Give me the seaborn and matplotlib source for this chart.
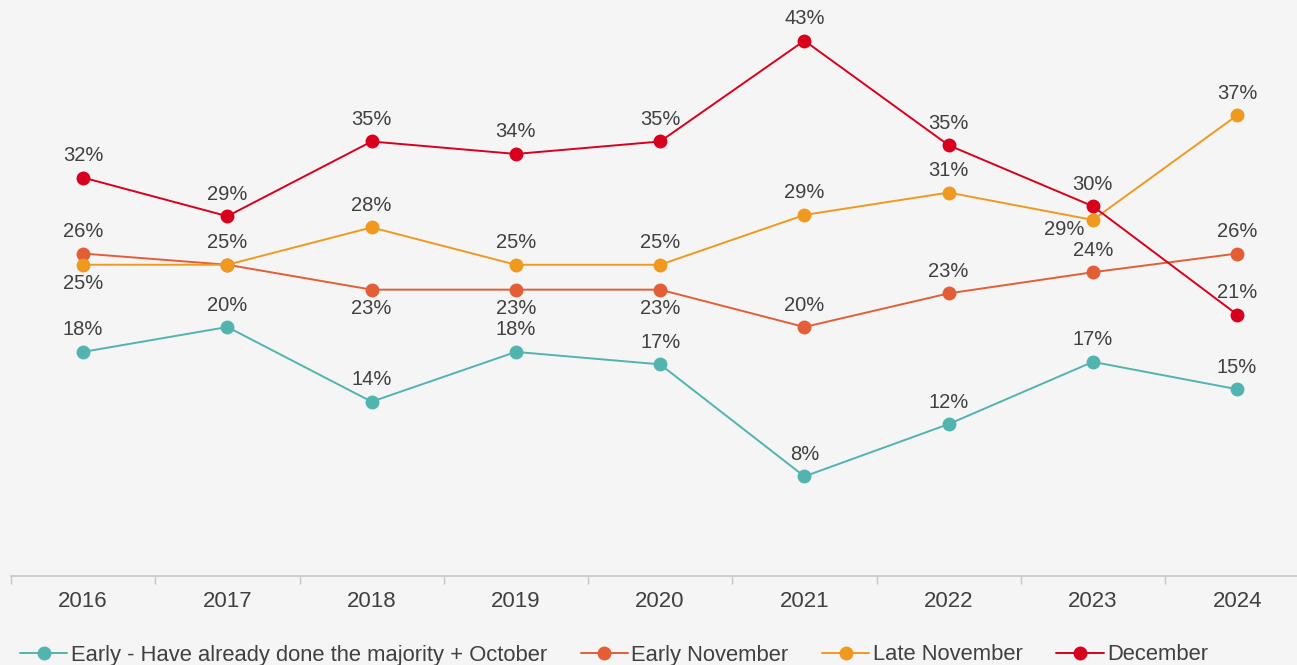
import matplotlib
matplotlib.use("Agg")
import matplotlib.pyplot as plt
from matplotlib.lines import Line2D
import seaborn as sns
import pandas as pd
import numpy as np

years = ["2016", "2017", "2018", "2019", "2020", "2021", "2022", "2023", "2024"]
series_names = ["Early - Have already done the majority + October",
                "Early November", "Late November", "December"]
early = [18, 20, 14, 18, 17, 8, 12.2, 17.2, 15]
early_nov = [25.9, 25, 23, 23, 23, 20, 22.7, 24.4, 25.9]
late_nov = [25, 25, 28, 25, 25, 29, 30.8, 28.6, 37]
december = [32, 28.9, 34.9, 33.9, 34.9, 43, 34.6, 29.7, 21]
colors = ["#52b4ae", "#e35e37", "#f0991f", "#d8001c"]

# label placement: +1 above, -1 below, "bl" below-left, None = hidden
label_pos = {
    0: [1, 1, 1, 1, 1, 1, 1, 1, 1],
    1: [1, None, -1, -1, -1, 1, 1, 1, 1],
    2: [-1, 1, 1, 1, 1, 1, 1, "bl", 1],
    3: [1, 1, 1, 1, 1, 1, 1, 1, 1],
}

all_vals = [early, early_nov, late_nov, december]
rows = []
for s, vals in zip(series_names, all_vals):
    for i, (y, v) in enumerate(zip(years, vals)):
        rows.append({"idx": i, "year": y, "series": s, "value": v})
df = pd.DataFrame(rows)

sns.set_theme(style="white")
plt.rcParams["font.family"] = ["Liberation Sans", "DejaVu Sans"]

W, H = 1297, 665
fig = plt.figure(figsize=(W / 100, H / 100), dpi=100)
bg = "#f5f5f5"
fig.patch.set_facecolor(bg)
ax_bottom = (H - 576) / H
ax = fig.add_axes([11 / W, ax_bottom, (W - 11) / W, 576 / H])
ax.set_facecolor(bg)

sns.lineplot(data=df, x="idx", y="value", hue="series", hue_order=series_names,
             palette=colors, marker="o", markersize=10, markeredgewidth=0,
             linewidth=1.4, legend=False, sort=False, ax=ax)

px = 1 / 1.389  # points per pixel at dpi 100
txt_color = "#404040"
for si, vals in enumerate(all_vals):
    for i, v in enumerate(vals):
        pos = label_pos[si][i]
        if pos is None:
            continue
        label = f"{int(v + 0.5):d}%"
        if pos == 1:
            off = (0, 22 * px)
        elif pos == -1:
            off = (0, -19 * px)
        else:
            off = (-29 * px, -10 * px)
        ax.annotate(label, (i, v), xytext=off, textcoords="offset points",
                    ha="center", va="center", fontsize=14.5, color=txt_color)

ax.set_xticks(range(len(years)))
ax.set_xticklabels(years)
ax.set_xticks(np.arange(-0.5, len(years), 1.0), minor=True)
ax.set_xlim(-0.5, -0.5 + (W - 11) / 144.25)
ax.set_ylim(0, 576 / 12.45)
ax.tick_params(axis="x", which="major", bottom=False, length=0, pad=11, labelsize=16,
               labelcolor=txt_color)
ax.tick_params(axis="x", which="minor", bottom=True, length=6, width=1, color="#c6c6c6",
               direction="out")
ax.set_yticks([])
ax.set_xlabel("")
ax.set_ylabel("")
for sp in ["top", "right", "left"]:
    ax.spines[sp].set_visible(False)
ax.spines["bottom"].set_color("#c6c6c6")
ax.spines["bottom"].set_linewidth(1.2)

handles = [Line2D([0], [0], color=c, marker="o", markersize=10, markeredgewidth=0, linewidth=1.4)
           for c in colors]
leg = fig.legend(handles, series_names, loc="center", bbox_to_anchor=(614 / W, 1 - 655 / H),
                 ncol=4, frameon=False, fontsize=15.8, handlelength=2.15, handletextpad=0.15,
                 columnspacing=1.55, labelcolor=txt_color)

fig.savefig("out.png", dpi=100, facecolor=bg)
